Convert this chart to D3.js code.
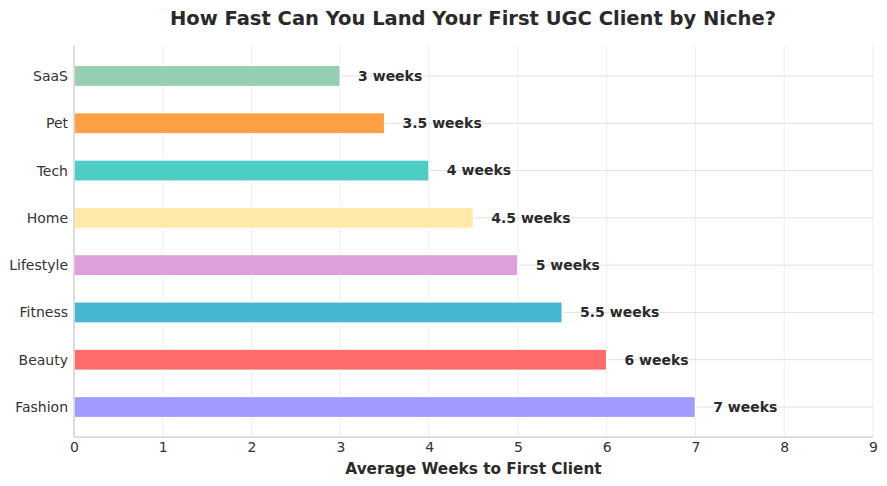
<!DOCTYPE html>
<html>
<head>
<meta charset="utf-8">
<script src="https://cdn.jsdelivr.net/npm/d3@7.9.0/dist/d3.min.js"></script>
<style>
  body { margin: 0; background: #fff; }
  svg { font-family: "DejaVu Sans", sans-serif; }
</style>
</head>
<body>
<svg width="887" height="486"></svg>
<script>
// top to bottom
const niches = ['SaaS', 'Pet', 'Tech', 'Home', 'Lifestyle', 'Fitness', 'Beauty', 'Fashion'];
const weeks = [3, 3.5, 4, 4.5, 5, 5.5, 6, 7];
const barColors = ['#96CEB4', '#FFA045', '#4ECDC4', '#FFEAA7', '#DDA0DD', '#45B7D1', '#FF6B6B', '#A29BFE'];
const xTicks = [0, 1, 2, 3, 4, 5, 6, 7, 8, 9];

const svg = d3.select('svg');
const margin = { top: 46, right: 14, bottom: 49, left: 74 };
const width = 887 - margin.left - margin.right;
const height = 486 - margin.top - margin.bottom;

const g = svg.append('g').attr('transform', `translate(${margin.left},${margin.top})`);

const x = d3.scaleLinear().domain([0, 9]).range([0, width]);
const y = d3.scaleLinear().domain([-0.634, niches.length - 1 + 0.634]).range([0, height]);
const barH = y(0.45) - y(0);

// vertical grid
g.selectAll('.vgrid')
  .data(xTicks)
  .join('line')
  .attr('x1', (d) => x(d))
  .attr('x2', (d) => x(d))
  .attr('y1', 0)
  .attr('y2', height)
  .attr('stroke', '#f1ede9')
  .attr('stroke-width', 1);

// horizontal grid
g.selectAll('.hgrid')
  .data(niches)
  .join('line')
  .attr('x1', 0)
  .attr('x2', width)
  .attr('y1', (d, i) => y(i))
  .attr('y2', (d, i) => y(i))
  .attr('stroke', '#e2e2e2')
  .attr('stroke-width', 1);

// bars
g.selectAll('.bar')
  .data(weeks)
  .join('rect')
  .attr('x', x(0))
  .attr('y', (d, i) => y(i) - barH / 2)
  .attr('width', (d) => x(d) - x(0))
  .attr('height', barH)
  .attr('fill', (d, i) => barColors[i])
  .attr('stroke', '#fff')
  .attr('stroke-width', 1.5);

// value labels
g.selectAll('.val')
  .data(weeks)
  .join('text')
  .attr('x', (d) => x(d + 0.2))
  .attr('y', (d, i) => y(i))
  .attr('dy', '0.35em')
  .attr('font-size', 14)
  .attr('font-weight', 'bold')
  .attr('fill', '#2a2a2a')
  .text((d) => `${d} weeks`);

// spines
g.append('line')
  .attr('x1', 0).attr('x2', 0).attr('y1', 0).attr('y2', height)
  .attr('stroke', '#cccccc').attr('stroke-width', 1.25);
g.append('line')
  .attr('x1', 0).attr('x2', width).attr('y1', height).attr('y2', height)
  .attr('stroke', '#cccccc').attr('stroke-width', 1.25);

// x axis tick labels
const xAxis = g.append('g')
  .attr('transform', `translate(0,${height})`)
  .call(d3.axisBottom(x).tickValues(xTicks).tickSize(0).tickPadding(5).tickFormat(d3.format('d')));
xAxis.select('.domain').remove();
xAxis.selectAll('text').attr('font-size', 14).attr('fill', '#333').attr('font-family', 'DejaVu Sans');

// y axis tick labels
const yAxis = g.append('g')
  .call(d3.axisLeft(y).tickValues(d3.range(niches.length)).tickSize(0).tickPadding(6).tickFormat((i) => niches[i]));
yAxis.select('.domain').remove();
yAxis.selectAll('text').attr('font-size', 14).attr('fill', '#333').attr('font-family', 'DejaVu Sans');

// title
svg.append('text')
  .attr('x', 473)
  .attr('y', 25)
  .attr('text-anchor', 'middle')
  .attr('font-size', 19.5)
  .attr('font-weight', 'bold')
  .attr('fill', '#2a2a2a')
  .text('How Fast Can You Land Your First UGC Client by Niche?');

// x label
svg.append('text')
  .attr('x', margin.left + width / 2)
  .attr('y', 474)
  .attr('text-anchor', 'middle')
  .attr('font-size', 15.3)
  .attr('font-weight', 'bold')
  .attr('fill', '#2a2a2a')
  .text('Average Weeks to First Client');
</script>
</body>
</html>
